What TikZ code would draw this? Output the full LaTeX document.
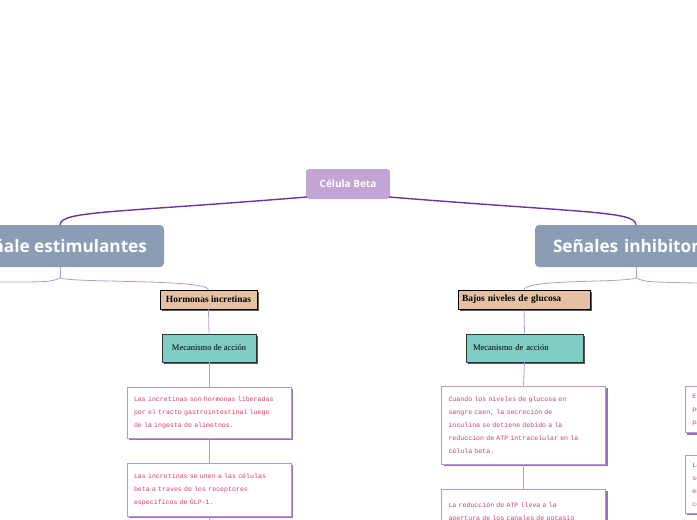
\documentclass[tikz,border=0pt]{standalone}
\usepackage{fontspec}
\setmainfont{Liberation Serif}
\newfontfamily\mapfont{Open Sans}
\newfontfamily\notefont{Liberation Mono}
\usetikzlibrary{shapes,shadows,calc}
\definecolor{rootfill}{HTML}{C3A5D5}
\definecolor{mainfill}{HTML}{8A9DB5}
\definecolor{tanfill}{HTML}{E3C1A2}
\definecolor{tealfill}{HTML}{7FCDC3}
\definecolor{darkline}{HTML}{6E32A0}
\definecolor{lightline}{HTML}{B898D4}
\definecolor{noteline}{HTML}{B995D3}
\definecolor{noteshade}{HTML}{9A70BC}
\definecolor{notetext}{HTML}{D2405F}
\tikzset{
  treenode/.style = {align=center, inner sep=0pt, text centered},
  root_n/.style = {treenode, rectangle, rounded corners=3pt, fill=rootfill, text=white, font=\mapfont\bfseries\fontsize{10}{12}\selectfont, minimum width=84pt, minimum height=30pt},
  main_n/.style = {treenode, rectangle, rounded corners=4pt, fill=mainfill, text=white, font=\mapfont\bfseries\fontsize{17.2}{20}\selectfont, minimum height=42pt},
  sub_n/.style = {treenode, rectangle, draw=black, line width=0.6pt, fill=tanfill, font=\bfseries\fontsize{9.5}{11}\selectfont, minimum height=19pt, drop shadow={shadow xshift=2pt, shadow yshift=-2pt, fill=black!65, opacity=1}},
  mec_n/.style = {treenode, rectangle, draw=black!80, line width=0.6pt, fill=tealfill, font=\fontsize{8.5}{10}\selectfont, minimum height=28pt, drop shadow={shadow xshift=2pt, shadow yshift=-2pt, fill=black!65, opacity=1}},
  note_n/.style = {rectangle, draw=noteline, line width=0.8pt, fill=white, text=notetext, align=left, inner sep=7pt, text width=150pt, minimum width=164pt, font=\notefont\fontsize{6.6}{13}\selectfont, drop shadow={shadow xshift=2pt, shadow yshift=-2pt, fill=noteshade, opacity=1}},
  thick_c/.style = {draw=darkline, line width=1.4pt},
  thin_c/.style = {draw=lightline, line width=0.8pt}
}

\begin{document}
\begin{tikzpicture}[x=1pt,y=-1pt]
  \useasboundingbox (0,0) rectangle (697,520);
  % main nodes
  \node[root_n] (root) at (348,184) {Célula Beta};
  \node[main_n, minimum width=208pt] (estim) at (60,246) {Señale estimulantes};
  \node[main_n, minimum width=202pt, text width=184pt, align=left] (inhib) at (636,246) {\hspace*{9pt}Señales inhibitorias};
  % left branch
  \node[sub_n, minimum width=97pt] (horm) at (208.5,299.5) {Hormonas incretinas};
  \node[mec_n, minimum width=94pt] (mecL) at (209,348) {Mecanismo de acción};
  \node[note_n, minimum height=51pt] (incA) at (209,412.5) {Las incretinas son hormonas liberadas\\por el tracto gastrointestinal luego\\de la ingesta de alimetnos.};
  \node[note_n, minimum height=53pt] (incB) at (209,489.5) {Las incretinas se unen a las células\\beta a traves de los receptores\\especificos de GLP-1.};
  % right branch
  \node[sub_n, minimum width=132pt, text width=124pt, align=left] (gluc) at (524,299.5) {Bajos niveles de glucosa};
  \node[mec_n, minimum width=117pt, text width=103pt, align=left] (mecR) at (524.5,348) {Mecanismo de acción};
  \node[note_n, minimum height=78pt] (glucA) at (523.5,425) {Cuando los niveles de glucosa en\\sangre caen, la secreción de\\insulina se detiene debido a la\\reduccion de ATP intracelular en la\\célula beta.};
  \node[note_n, minimum height=72pt, anchor=north] (glucB) at (523.5,489) {La reducción de ATP lleva a la\\apertura de los canales de potasio\\dependientes de ATP y esto provoca la\\despolarización de la membrana.};
  % far right, cut by the edge
  \node[note_n, minimum height=44pt, anchor=north west] (farA) at (685,386) {El GLP-1 estimula la secreción\\por la célula beta\\para bajar la glucosa.};
  \node[note_n, minimum height=53pt, anchor=north west] (farB) at (685,455) {La somatostatina inhibe la\\secreción de insulina\\en la célula beta\\como señal local.};
  % fork points
  \coordinate (estimfork) at (60,278);
  \coordinate (inhibfork) at (636,278);
  \coordinate (leftend) at (0,282);
  \coordinate (rightend) at (697,283);
  \coordinate (incEnd) at (209,520);
  \coordinate (glucEnd) at (524,520);
  \coordinate (rootL) at (307,197);
  \coordinate (rootR) at (389,197);
  % connectors
  \draw[thick_c] (rootL) .. controls (110,213) and (61,211) .. (estim.north);
  \draw[thick_c] (rootR) .. controls (586,213) and (635,211) .. (inhib.north);
  \draw[thin_c] (estim.south) -- (estimfork);
  \draw[thin_c] (estimfork) .. controls (75,283) and (206,279) .. (horm.north);
  \draw[thin_c] (estimfork) .. controls (50,282) .. (leftend);
  \draw[thin_c] (inhib.south) -- (inhibfork);
  \draw[thin_c] (inhibfork) .. controls (621,283) and (526,279) .. (gluc.north);
  \draw[thin_c] (inhibfork) .. controls (646,282) .. (rightend);
  \draw[thin_c] (horm.south) -- (mecL.north);
  \draw[thin_c] (mecL.south) -- (incA.north);
  \draw[thin_c] (incA.south) -- (incB.north);
  \draw[thin_c] (incB.south) -- (incEnd);
  \draw[thin_c] (gluc.south) -- (mecR.north);
  \draw[thin_c] (mecR.south) -- (glucA.north);
  \draw[thin_c] (glucA.south) -- (glucB.north);
\end{tikzpicture}
\end{document}
